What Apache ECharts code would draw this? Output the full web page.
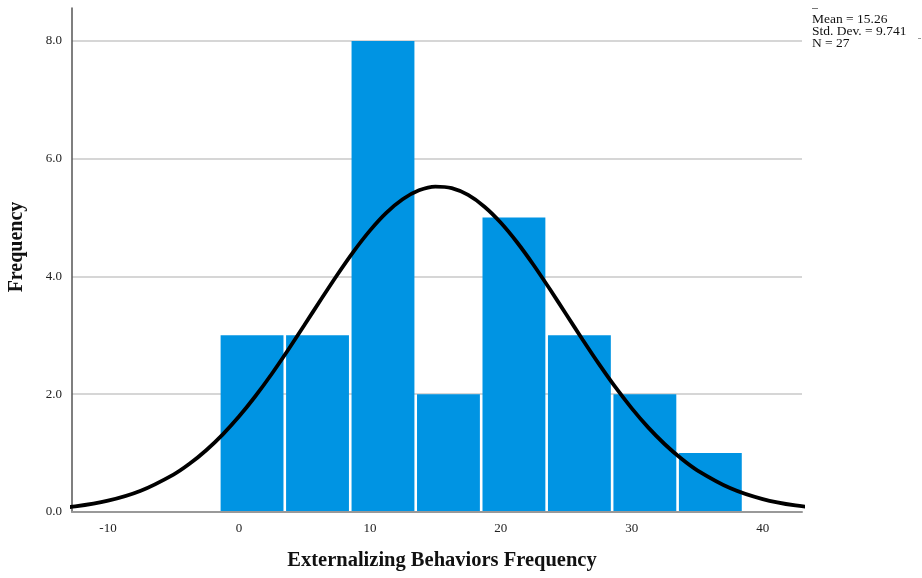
<!DOCTYPE html>
<html><head><meta charset="utf-8">
<script src="https://cdn.jsdelivr.net/npm/echarts@6/dist/echarts.min.js"></script>
<style>html,body{margin:0;padding:0;background:#fff}#c{width:922px;height:578px}</style>
</head><body><div id="c"></div>
<script>
// Histogram bins: [start, end, count]
const binStarts = [-1.5, 3.5, 8.5, 13.5, 18.5, 23.5, 28.5, 33.5];
const binWidth = 5;
const counts = [3, 3, 8, 2, 5, 3, 2, 1];
// Normal curve points
const curveX = [-15, -12.5, -10, -7.5, -5, -3.75, -2.5, -1.25, 0, 1.25, 2.5, 3.75, 5, 6.25, 7.5, 8.75, 10, 11.25, 12.5, 13.75, 15, 16.25, 17.5, 18.75, 20, 21.25, 22.5, 23.75, 25, 26.25, 27.5, 28.75, 30, 31.25, 32.5, 33.75, 35, 37.5, 40, 42.5, 45];
const curveY = [0.044, 0.095, 0.192, 0.361, 0.636, 0.823, 1.049, 1.315, 1.621, 1.966, 2.344, 2.751, 3.175, 3.605, 4.026, 4.423, 4.779, 5.080, 5.311, 5.463, 5.527, 5.501, 5.385, 5.185, 4.912, 4.577, 4.195, 3.782, 3.354, 2.926, 2.511, 2.119, 1.760, 1.437, 1.155, 0.913, 0.709, 0.408, 0.220, 0.111, 0.052];
const xTicks = [-10, 0, 10, 20, 30, 40];
const yTicks = [0, 2, 4, 6, 8];
const statsText = ['Mean = 15.26', 'Std. Dev. = 9.741', 'N = 27'];
const xTitle = 'Externalizing Behaviors Frequency';
const yTitle = 'Frequency';

const serif = 'Liberation Serif';
const chart = echarts.init(document.getElementById('c'));
chart.setOption({
  animation: false,
  grid: {left: 72, right: 120, top: 8, bottom: 66, containLabel: false, outerBoundsMode: 'none'},
  xAxis: {
    type: 'value', min: -12.75, max: 43,
    axisLine: {show: true, onZero: false, lineStyle: {color: '#999', width: 2}},
    axisTick: {show: false, customValues: xTicks},
    axisLabel: {customValues: xTicks, fontFamily: serif, fontSize: 13, color: '#222', margin: 10,
      formatter: v => String(v)},
    splitLine: {show: false}
  },
  yAxis: {
    type: 'value', min: 0, max: 8.56,
    axisLine: {show: true, onZero: false, lineStyle: {color: '#555', width: 1.5}},
    axisTick: {show: false, customValues: yTicks},
    axisLabel: {customValues: yTicks, fontFamily: serif, fontSize: 13, color: '#222', margin: 10,
      formatter: v => v.toFixed(1)},
    splitLine: {show: true, lineStyle: {color: '#c8c8c8', width: 1.5}}
  },
  graphic: [{
    type: 'text', left: 812, top: 12,
    style: {text: statsText.join('\n'), fontFamily: serif, fontSize: 13.5, lineHeight: 12, fill: '#111'}
  }, {
    type: 'text', x: 442, y: 561,
    style: {text: xTitle, fontFamily: serif, fontWeight: 'bold', fontSize: 20.5, fill: '#111', align: 'center', verticalAlign: 'middle'}
  }, {
    type: 'text', x: 17, y: 247, rotation: Math.PI / 2,
    style: {text: yTitle, fontFamily: serif, fontWeight: 'bold', fontSize: 20, fill: '#111', align: 'center', verticalAlign: 'middle'}
  }, {
    type: 'line', shape: {x1: 812, y1: 8.5, x2: 818, y2: 8.5}, style: {stroke: '#777', lineWidth: 1}
  }, {
    type: 'line', shape: {x1: 918, y1: 38.5, x2: 921, y2: 38.5}, style: {stroke: '#999', lineWidth: 1}
  }],
  series: [{
    type: 'custom',
    data: binStarts.map((s, i) => [s, s + binWidth, counts[i]]),
    renderItem: function (params, api) {
      const p0 = api.coord([api.value(0), 0]);
      const p1 = api.coord([api.value(1), api.value(2)]);
      const gap = 1.3;
      return {type: 'rect', shape: {x: p0[0] + gap, y: p1[1], width: p1[0] - p0[0] - 2 * gap, height: p0[1] - p1[1] - 1},
        style: {fill: '#0094E3'}};
    },
    z: 2
  }, {
    type: 'line', smooth: 0.3, symbol: 'none', clip: true,
    data: curveX.map((x, i) => [x, curveY[i]]),
    lineStyle: {color: '#000', width: 3.8},
    z: 3
  }]
});
</script></body></html>
